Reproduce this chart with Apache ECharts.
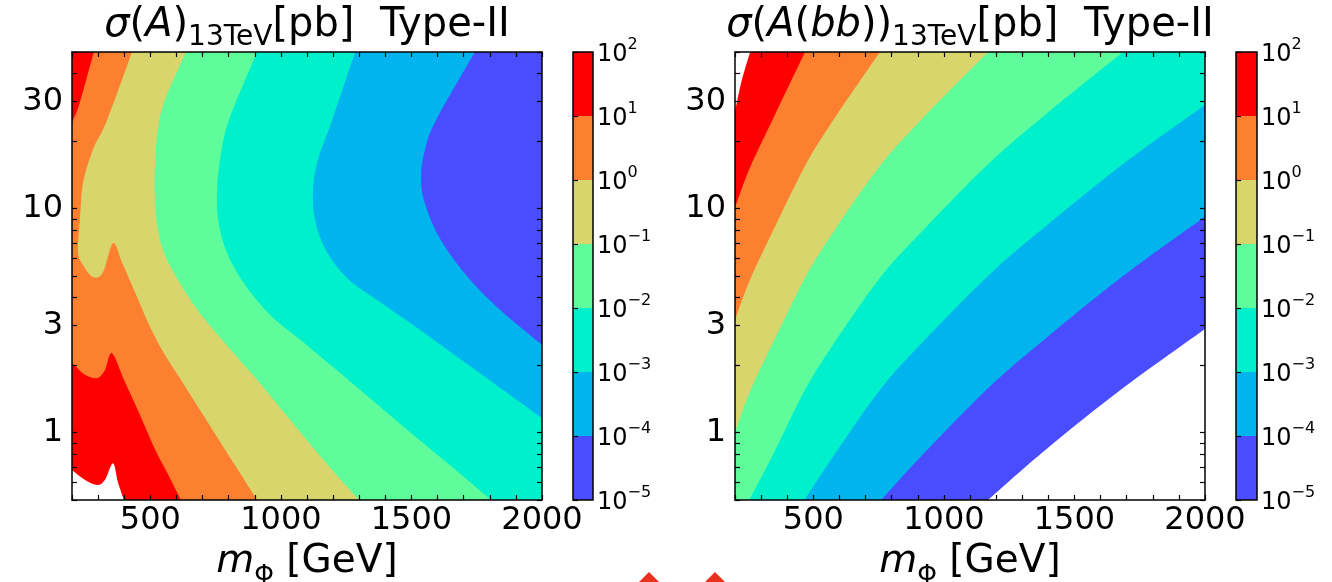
<!DOCTYPE html>
<html><head><meta charset="utf-8">
<script src="https://cdn.jsdelivr.net/npm/echarts@6/dist/echarts.min.js"></script>
<style>html,body{margin:0;padding:0;background:#fff;}#c{width:1332px;height:582px;}</style>
</head><body><div id="c"></div>
<script>
// ---------------- data ----------------
const M_RANGE = [200, 2000];          // m_Phi [GeV]
const TB_RANGE = [0.5, 50];           // tan beta
const xTickLabels = [500, 1000, 1500, 2000];
const yTickLabels = [1, 3, 10, 30];
const yTicks = [0.5,0.6,0.7,0.8,0.9,1,2,3,4,5,6,7,8,9,10,20,30,40,50];
const cbExponents = [-5,-4,-3,-2,-1,0,1,2];   // contour levels 10^k [pb]
const bandColors = ['#4a4cff','#00b4ee','#00f0cc','#5efc9a','#d7d56b','#fd7f30','#ff0000'];

// Left panel sigma(A): contour lines [m, tanb] (higher sigma lies to the right of travel)
const aLvlM4 = [[1743,50],[1594,24.8],[1552,18.3],[1537,14.1],[1548,10.9],[1602,7.6],[1694,5.3],[1820,3.7],[2000,2.46]];
const aLvlM3 = [[1284,50],[1196,24.8],[1142,16.5],[1123,12.1],[1131,8.9],[1173,6.5],[1257,4.85],[1380,3.83],[1533,2.87],[1724,1.98],[2000,1.16]];
const aLvlM2 = [[909,50],[801,24.8],[767,16.5],[755,11.5],[763,8.45],[797,6.2],[863,4.56],[965,3.3],[1085,2.54],[1200,1.96],[1330,1.46],[1471,1.06],[1632,0.74],[1805,0.5]];
const aLvlM1 = [[637,50],[556,30.5],[529,22.4],[518,15.7],[518,10.9],[529,8.0],[556,6.2],[606,4.8],[683,3.5],[774,2.6],[843,2.1],[909,1.72],[1035,1.14],[1169,0.74],[1299,0.5]];
const aLvl0 = [[430,50],[334,24.8],[280,18.3],[242,13.0],[231,9.2],[223,6.5],[238,5.7],[280,4.95],[319,5.2],[357,7.0],[391,5.77],[441,4.24],[499,2.96],[556,2.22],[617,1.72],[690,1.26],[767,0.91],[843,0.66],[909,0.5]];
const aLvl1Top = [[284,50],[254,37.5],[227,29],[204,24.8],[200,23.9]];
const aLvl1Low = [[200,2.05],[250,1.81],[296,1.75],[326,1.9],[353,2.26],[399,1.72],[460,1.2],[518,0.84],[568,0.65],[617,0.5]];
const aLvl2 = [[200,0.68],[250,0.614],[296,0.583],[326,0.614],[357,0.73],[376,0.6],[399,0.5]];

// Right panel sigma(A(bb))
const bLvlM5 = [[2000,2.9],[1686,1.58],[1391,0.84],[1169,0.5]];
const bLvlM4 = [[2000,9.2],[1686,5.0],[1391,2.64],[1177,1.61],[916,0.79],[760,0.5]];
const bLvlM3 = [[2000,29],[1686,15.8],[1391,8.35],[1177,5.1],[916,2.51],[755,1.55],[572,0.77],[466,0.5]];
const bLvlM2 = [[1686,50],[1391,26.4],[1177,16.1],[916,7.9],[755,4.9],[572,2.43],[468,1.55],[353,0.83],[255,0.5]];
const bLvlM1 = [[1169,50],[916,25.1],[755,15.5],[572,7.7],[468,4.9],[353,2.62],[257,1.52],[200,1.0]];
const bLvl0 = [[755,50],[572,24.4],[468,15.5],[353,8.3],[257,4.8],[200,3.18]];
const bLvl1 = [[468,50],[353,26.2],[257,15.2],[200,10.1]];
const bLvl2 = [[258,50],[225,37],[200,27]];

// ---------------- helpers ----------------
const LOG = Math.log10;
const X0 = M_RANGE[0], X1 = M_RANGE[1], Y0 = TB_RANGE[0], Y1 = TB_RANGE[1];
const YMIN = LOG(Y0), YMAX = LOG(Y1);
const FONT = 'DejaVu Sans';
const fillAbove = k => (k < 2 ? bandColors[k + 5] : '#ffffff');

function perim(p) {
  const W = X1 - X0, H = YMAX - YMIN, ly = LOG(p[1]) - YMIN;
  if (Math.abs(p[1] - Y0) < 1e-9) return (X1 - p[0]) / W;
  if (Math.abs(p[0] - X0) < 1e-9) return 1 + ly / H;
  if (Math.abs(p[1] - Y1) < 1e-9) return 2 + (p[0] - X0) / W;
  return 3 + (H - ly) / H;
}
const CORNERS = [[X1, Y0], [X0, Y0], [X0, Y1], [X1, Y1]];
function borderWalk(end, start) {
  const te = perim(end); let ts = perim(start);
  if (ts <= te) ts += 4;
  const out = [];
  for (let c = Math.floor(te) + 1; c < ts; c++) out.push(CORNERS[c % 4]);
  return out;
}
function contourPath(api, pts) {
  const P = pts.map(p => api.coord([p[0], LOG(p[1])]));
  let d = 'M' + P[0][0] + ' ' + P[0][1];
  for (let i = 0; i < P.length - 1; i++) {
    const p0 = P[Math.max(i - 1, 0)], p1 = P[i], p2 = P[i + 1], p3 = P[Math.min(i + 2, P.length - 1)];
    const c1 = [p1[0] + (p2[0] - p0[0]) / 6, p1[1] + (p2[1] - p0[1]) / 6];
    const c2 = [p2[0] - (p3[0] - p1[0]) / 6, p2[1] - (p3[1] - p1[1]) / 6];
    d += 'C' + c1[0] + ' ' + c1[1] + ' ' + c2[0] + ' ' + c2[1] + ' ' + p2[0] + ' ' + p2[1];
  }
  borderWalk(pts[pts.length - 1], pts[0]).forEach(c => {
    const q = api.coord([c[0], LOG(c[1])]); d += 'L' + q[0] + ' ' + q[1];
  });
  return d + 'Z';
}

const leftItems = [
  { bg: bandColors[0] },
  { pts: aLvlM4, k: -4 }, { pts: aLvlM3, k: -3 }, { pts: aLvlM2, k: -2 }, { pts: aLvlM1, k: -1 },
  { pts: aLvl0, k: 0 }, { pts: aLvl1Top, k: 1 }, { pts: aLvl1Low, k: 1 }, { pts: aLvl2, k: 2 }
];
const rightItems = [
  { bg: '#ffffff' },
  { pts: bLvlM5, k: -5 }, { pts: bLvlM4, k: -4 }, { pts: bLvlM3, k: -3 }, { pts: bLvlM2, k: -2 },
  { pts: bLvlM1, k: -1 }, { pts: bLvl0, k: 0 }, { pts: bLvl1, k: 1 }, { pts: bLvl2, k: 2 }
];
function contourRender(items) {
  return function (params, api) {
    const it = items[params.dataIndex];
    if (it.bg) {
      const a = api.coord([X0, YMAX]), b = api.coord([X1, YMIN]);
      return { type: 'rect', shape: { x: a[0], y: a[1], width: b[0] - a[0], height: b[1] - a[1] }, style: { fill: it.bg } };
    }
    return { type: 'path', shape: { pathData: contourPath(api, it.pts) }, style: { fill: fillAbove(it.k), stroke: null } };
  };
}
const cbBands = cbExponents.slice(0, -1).map((lo, i) => [lo, cbExponents[i + 1]]);
function cbRender(params, api) {
  if (params.dataIndex === cbBands.length) {
    const a = api.coord([0, cbExponents[cbExponents.length - 1]]), b = api.coord([1, cbExponents[0]]);
    return { type: 'rect', shape: { x: a[0], y: a[1], width: b[0] - a[0], height: b[1] - a[1] }, style: { fill: null, stroke: '#000', lineWidth: 1.5 } };
  }
  const band = cbBands[params.dataIndex];
  const a = api.coord([0, band[1]]), b = api.coord([1, band[0]]);
  return { type: 'rect', shape: { x: a[0], y: a[1], width: b[0] - a[0], height: b[1] - a[1] }, style: { fill: bandColors[params.dataIndex] } };
}

// ---------------- axes ----------------
const lineStyle = { color: '#000', width: 1.5 };
const tickStyle = { color: '#000', width: 1.2 };
const nameRich = {
  i: { fontSize: 39, fontFamily: FONT, fontStyle: 'italic', color: '#000', lineHeight: 46, verticalAlign: 'top' },
  r: { fontSize: 39, fontFamily: FONT, color: '#000', lineHeight: 46, verticalAlign: 'top' },
  s: { fontSize: 25, fontFamily: FONT, color: '#000', lineHeight: 24, verticalAlign: 'bottom' }
};
function xBottom(g) {
  return {
    gridIndex: g, type: 'value', min: X0, max: X1, interval: 100, position: 'bottom', z: 5,
    axisLine: { show: true, onZero: false, lineStyle },
    axisTick: { show: true, inside: true, length: 5, lineStyle: tickStyle },
    splitLine: { show: false },
    axisLabel: { customValues: xTickLabels, formatter: v => String(v), fontSize: 32, fontFamily: FONT, color: '#000', margin: 5 },
    name: '{i|m}{s|Φ}{r| [GeV]}', nameLocation: 'middle', nameGap: 36,
    nameTextStyle: { rich: nameRich }
  };
}
function xTop(g) {
  return {
    gridIndex: g, type: 'value', min: X0, max: X1, interval: 100, position: 'top', z: 5,
    axisLine: { show: true, onZero: false, lineStyle },
    axisTick: { show: true, inside: true, length: 5, lineStyle: tickStyle },
    splitLine: { show: false }, axisLabel: { show: false }
  };
}
function yAx(g, pos, labels) {
  return {
    gridIndex: g, type: 'value', min: YMIN, max: YMAX, position: pos, z: 5,
    axisLine: { show: true, onZero: false, lineStyle },
    axisTick: { show: true, inside: true, length: 5, lineStyle: tickStyle, customValues: yTicks.map(LOG) },
    splitLine: { show: false },
    axisLabel: labels ? { customValues: yTickLabels.map(LOG), formatter: v => String(Math.round(Math.pow(10, v))),
      fontSize: 32, fontFamily: FONT, color: '#000', margin: 9 } : { show: false }
  };
}
function cbX(g) { return { gridIndex: g, type: 'value', min: 0, max: 1, show: false }; }
function cbY(g) {
  return {
    gridIndex: g, type: 'value', min: cbExponents[0], max: cbExponents[cbExponents.length - 1], interval: 1,
    position: 'right', z: 5,
    axisLine: { show: false },
    axisTick: { show: true, inside: false, length: 5, lineStyle: tickStyle },
    splitLine: { show: false },
    axisLabel: {
      margin: 4,
      formatter: v => '{b|10}{s|' + (v < 0 ? '\u2212' + (-v) : v) + '}',
      rich: {
        b: { fontSize: 24, fontFamily: FONT, color: '#000', lineHeight: 30, verticalAlign: 'bottom' },
        s: { fontSize: 16, fontFamily: FONT, color: '#000', lineHeight: 16, verticalAlign: 'top' }
      }
    }
  };
}

const titleRich = {
  i: { fontSize: 40, fontFamily: FONT, fontStyle: 'italic', fontWeight: 'normal', color: '#000', lineHeight: 46, verticalAlign: 'top' },
  r: { fontSize: 40, fontFamily: FONT, fontWeight: 'normal', color: '#000', lineHeight: 46, verticalAlign: 'top' },
  s: { fontSize: 28, fontFamily: FONT, fontWeight: 'normal', color: '#000', lineHeight: 22, verticalAlign: 'bottom' }
};

const gridOpt = g => Object.assign({ containLabel: false, outerBoundsMode: 'none', show: false }, g);

const option = {
  animation: false,
  backgroundColor: '#ffffff',
  title: [
    { text: '{i|σ}{r|(}{i|A}{r|)}{s|13TeV}{r|[pb]  Type-II}', left: 307, top: 6, padding: 0, textAlign: 'center',
      textStyle: { fontWeight: 'normal', rich: titleRich } },
    { text: '{i|σ}{r|(}{i|A}{r|(}{i|bb}{r|))}{s|13TeV}{r|[pb]  Type-II}', left: 970, top: 6, padding: 0, textAlign: 'center',
      textStyle: { fontWeight: 'normal', rich: titleRich } }
  ],
  grid: [
    gridOpt({ left: 72, top: 52, width: 470, height: 448 }),
    gridOpt({ left: 573, top: 52, width: 20, height: 448 }),
    gridOpt({ left: 735, top: 52, width: 470, height: 448 }),
    gridOpt({ left: 1236, top: 52, width: 21, height: 448 })
  ],
  xAxis: [xBottom(0), xTop(0), cbX(1), xBottom(2), xTop(2), cbX(3)],
  yAxis: [yAx(0, 'left', true), yAx(0, 'right', false), cbY(1), yAx(2, 'left', true), yAx(2, 'right', false), cbY(3)],
  series: [
    { type: 'custom', xAxisIndex: 0, yAxisIndex: 0, clip: true, silent: true,
      data: leftItems.map(() => [X0, 0]), renderItem: contourRender(leftItems) },
    { type: 'custom', xAxisIndex: 2, yAxisIndex: 2, silent: true,
      data: cbBands.concat([[0, 0]]).map(() => [0, 0]), renderItem: cbRender },
    { type: 'custom', xAxisIndex: 3, yAxisIndex: 3, clip: true, silent: true,
      data: rightItems.map(() => [X0, 0]), renderItem: contourRender(rightItems) },
    { type: 'custom', xAxisIndex: 5, yAxisIndex: 5, silent: true,
      data: cbBands.concat([[0, 0]]).map(() => [0, 0]), renderItem: cbRender }
  ],
  graphic: [
    { type: 'polygon', shape: { points: [[649, 572], [664, 587], [649, 602], [634, 587]] }, style: { fill: '#e8301c' } },
    { type: 'polygon', shape: { points: [[715, 572], [730, 587], [715, 602], [700, 587]] }, style: { fill: '#e8301c' } }
  ]
};
const chart = echarts.init(document.getElementById('c'), null, { renderer: 'canvas' });
chart.setOption(option);
</script></body></html>
